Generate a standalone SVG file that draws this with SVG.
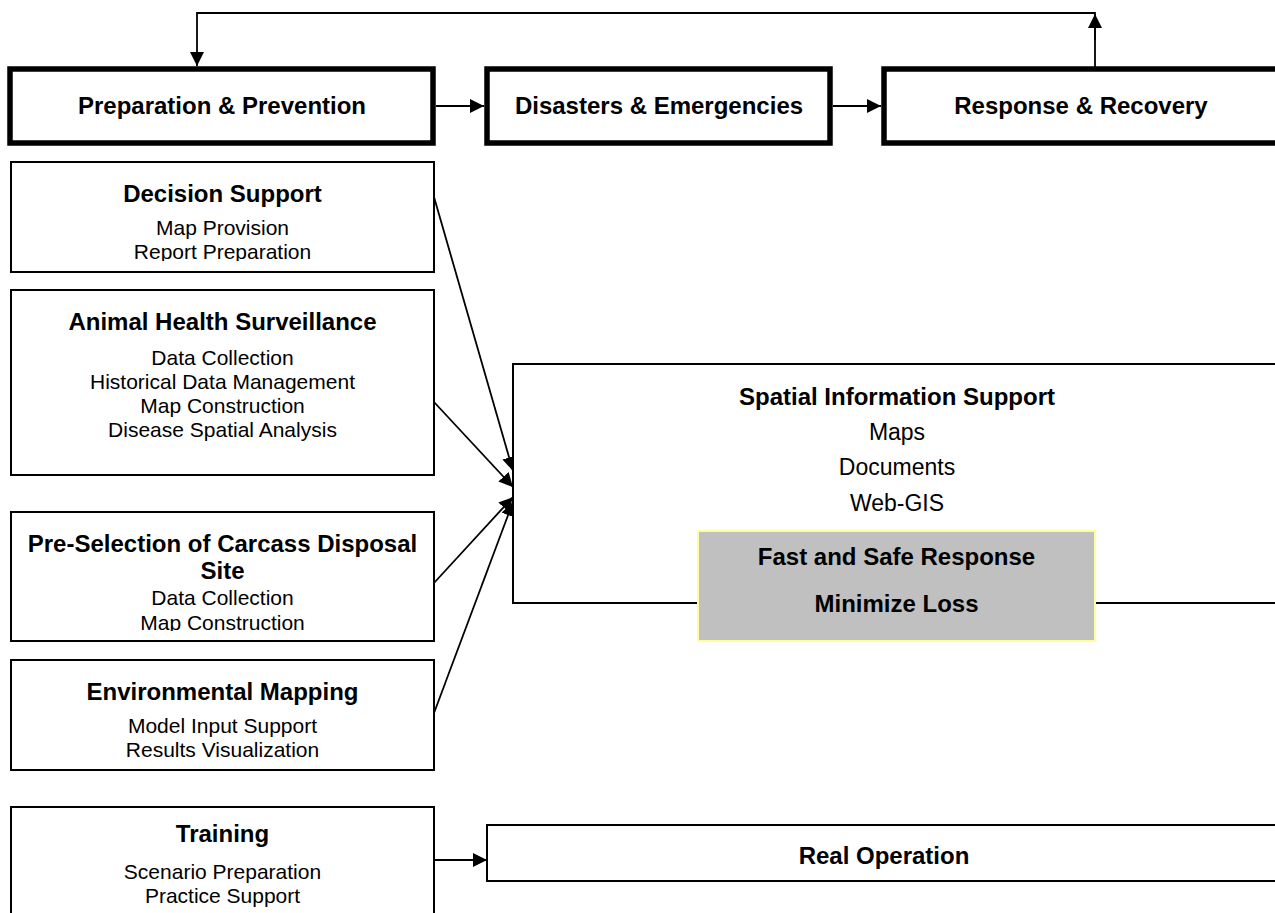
<svg xmlns="http://www.w3.org/2000/svg" width="1275" height="913" viewBox="0 0 1275 913">
<style>
.bg{fill:#ffffff}
.thick{fill:#ffffff;stroke:#000;stroke-width:5.5}
.thin{fill:#ffffff;stroke:#000;stroke-width:2}
.gray{fill:#c0c0c0;stroke:#ffff99;stroke-width:2}
.conn{fill:none;stroke:#000;stroke-width:1.8}
text{font-family:"Liberation Sans",Arial,sans-serif;fill:#000;text-anchor:middle}
.t{font-size:24px;font-weight:bold}
.i{font-size:21px}
.s{font-size:23px}
</style>
<defs>
<marker id="ah" markerUnits="userSpaceOnUse" markerWidth="15" markerHeight="14" refX="14" refY="7" orient="auto">
<path d="M0,0 L14,7 L0,14 z" fill="#000"/>
</marker>
<clipPath id="clipDec"><rect x="11" y="162" width="423" height="99"/></clipPath>
<clipPath id="clipPre"><rect x="11" y="512" width="423" height="119"/></clipPath>
</defs>
<rect class="bg" x="0" y="0" width="1275" height="913"/>

<g id="connectors">
<polyline class="conn" points="1095,67 1095,13 197,13 197,66" marker-end="url(#ah)"/>
<line class="conn" x1="1095" y1="40" x2="1095" y2="14" marker-end="url(#ah)"/>
<line class="conn" x1="436" y1="106" x2="484" y2="106" marker-end="url(#ah)"/>
<line class="conn" x1="833" y1="106" x2="881" y2="106" marker-end="url(#ah)"/>
<line class="conn" x1="434" y1="197" x2="513" y2="471" marker-end="url(#ah)"/>
<line class="conn" x1="434" y1="402" x2="513" y2="487" marker-end="url(#ah)"/>
<line class="conn" x1="434" y1="583" x2="513" y2="497" marker-end="url(#ah)"/>
<line class="conn" x1="434" y1="713" x2="513" y2="502" marker-end="url(#ah)"/>
<line class="conn" x1="434" y1="860" x2="487" y2="860" marker-end="url(#ah)"/>
</g>

<g id="prep">
<rect class="thick" x="10" y="69" width="423" height="74"/>
<text class="t" x="222" y="114">Preparation &amp; Prevention</text>
</g>
<g id="disasters">
<rect class="thick" x="487" y="69" width="343" height="74"/>
<text class="t" x="659" y="114">Disasters &amp; Emergencies</text>
</g>
<g id="response">
<rect class="thick" x="884" y="69" width="400" height="74"/>
<text class="t" x="1081" y="114">Response &amp; Recovery</text>
</g>

<g id="decision">
<rect class="thin" x="11" y="162" width="423" height="110"/>
<g clip-path="url(#clipDec)">
<text class="t" x="222.5" y="202">Decision Support</text>
<text class="i" x="222.5" y="235">Map Provision</text>
<text class="i" x="222.5" y="259">Report Preparation</text>
</g>
</g>

<g id="animal">
<rect class="thin" x="11" y="290" width="423" height="185"/>
<text class="t" x="222.5" y="330">Animal Health Surveillance</text>
<text class="i" x="222.5" y="365">Data Collection</text>
<text class="i" x="222.5" y="389">Historical Data Management</text>
<text class="i" x="222.5" y="413">Map Construction</text>
<text class="i" x="222.5" y="437">Disease Spatial Analysis</text>
</g>

<g id="preselection">
<rect class="thin" x="11" y="512" width="423" height="129"/>
<g clip-path="url(#clipPre)">
<text class="t" x="222.5" y="552">Pre-Selection of Carcass Disposal</text>
<text class="t" x="222.5" y="579">Site</text>
<text class="i" x="222.5" y="605">Data Collection</text>
<text class="i" x="222.5" y="630">Map Construction</text>
</g>
</g>

<g id="environmental">
<rect class="thin" x="11" y="660" width="423" height="110"/>
<text class="t" x="222.5" y="700">Environmental Mapping</text>
<text class="i" x="222.5" y="733">Model Input Support</text>
<text class="i" x="222.5" y="757">Results Visualization</text>
</g>

<g id="training">
<rect class="thin" x="11" y="807" width="423" height="120"/>
<text class="t" x="222.5" y="842">Training</text>
<text class="i" x="222.5" y="879">Scenario Preparation</text>
<text class="i" x="222.5" y="903">Practice Support</text>
</g>

<g id="spatial">
<rect class="thin" x="513" y="364" width="780" height="239"/>
<text class="t" x="897" y="405">Spatial Information Support</text>
<text class="s" x="897" y="440">Maps</text>
<text class="s" x="897" y="475">Documents</text>
<text class="s" x="897" y="511">Web-GIS</text>
</g>

<g id="outcome">
<rect class="gray" x="698" y="531" width="397" height="110"/>
<text class="t" x="896.5" y="565">Fast and Safe Response</text>
<text class="t" x="896.5" y="612">Minimize Loss</text>
</g>

<g id="realop">
<rect class="thin" x="487" y="825" width="800" height="56"/>
<text class="t" x="884" y="864">Real Operation</text>
</g>
</svg>
